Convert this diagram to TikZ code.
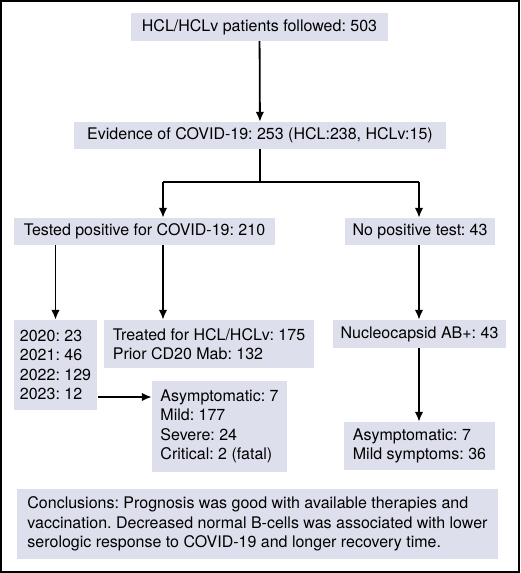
\documentclass[tikz,border=0pt]{standalone}
\usepackage{fontspec}
\setmainfont{TeX Gyre Heros}
\usetikzlibrary{arrows.meta,calc}
\definecolor{boxfill}{RGB}{221,224,236}
\tikzset{
  infobox/.style={fill=boxfill, inner xsep=4pt, inner ysep=0pt, align=left},
  arr/.style={line width=1.8pt, -{Latex[length=10pt,width=8.5pt]}},
  ln/.style={line width=1.8pt}
}
\begin{document}
\begin{tikzpicture}[
every node/.style={font=\fontsize{16}{19.5}\selectfont\frenchspacing},
x=1pt,
y=-1pt
]
\useasboundingbox (0,0) rectangle (520,573);
\draw[line width=1.5pt] (1,1) rectangle (519,572);

\node[infobox, minimum width=257pt, minimum height=28pt] (followed) at (259.5,27) {HCL/HCLv patients followed: 503};
\node[infobox, minimum width=372pt, minimum height=27pt] (evidence) at (260,135.5) {Evidence of COVID-19: 253 (HCL:238, HCLv:15)};

\node[infobox, minimum width=261pt, minimum height=27pt] (tested) at (144.5,231.5) {Tested positive for COVID-19: 210};
\node[infobox, minimum width=150pt, minimum height=27pt] (notest) at (420,231.5) {No positive test: 43};

\node[infobox, minimum width=83pt, minimum height=90pt] (years) at (55.5,365) {2020: 23\\2021: 46\\2022: 129\\2023: 12};
\node[infobox, minimum width=210pt, minimum height=48pt] (treated) at (209,344) {Treated for HCL/HCLv: 175\\Prior CD20 Mab: 132};
\node[infobox, minimum width=173pt, minimum height=28pt] (nucleo) at (419.5,334) {Nucleocapsid AB+: 43};

\node[infobox, minimum width=135pt, minimum height=91pt] (severity) at (219.5,426.5) {Asymptomatic: 7\\Mild: 177\\Severe: 24\\Critical: 2 (fatal)};
\node[infobox, minimum width=151pt, minimum height=48pt] (mildsym) at (419.5,446) {Asymptomatic: 7\\Mild symptoms: 36};

\node[infobox, minimum width=481pt, minimum height=70pt] (concl) at (257.5,524) {Conclusions: Prognosis was good with available therapies and\\vaccination. Decreased normal B-cells was associated with lower\\serologic response to COVID-19 and longer recovery time.};

\coordinate (split) at (260,182);
\coordinate (splitl) at (163,182);
\coordinate (splitr) at (419,182);

\draw[arr] (followed) -- (evidence);
\draw[ln] (evidence.south) -- (split);
\draw[ln] (splitl) -- (splitr);
\draw[arr] (splitl) -- (splitl |- tested.north);
\draw[arr] (splitr) -- (splitr |- notest.north);

\draw[arr] (years.north |- tested.south) -- (years.north);
\draw[arr] (splitl |- tested.south) -- (splitl |- treated.north);
\draw[arr] (splitr |- notest.south) -- (splitr |- nucleo.north);
\draw[arr] (splitr |- nucleo.south) -- (splitr |- mildsym.north);
\draw[arr] ([xshift=1pt,yshift=-32pt]years.east) -- ([yshift=-32pt]years.east -| severity.west);
\end{tikzpicture}
\end{document}
